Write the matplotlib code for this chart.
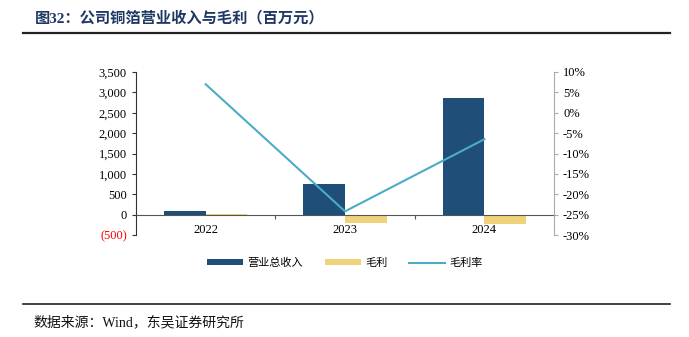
import numpy as np
import matplotlib
matplotlib.use('Agg')
from matplotlib import pyplot as plt
from matplotlib.ticker import FuncFormatter, MultipleLocator
from matplotlib.lines import Line2D

plt.rcParams['font.family'] = ['Liberation Serif', 'Noto Sans CJK SC', 'DejaVu Sans']

years = ['2022', '2023', '2024']
revenue = [80, 740, 2870]
gross_profit = [8, -210, -220]
margin = [7.0, -24.2, -6.5]

navy = '#1F4E79'
gold = '#F0D27A'
teal = '#4BACC6'

fig = plt.figure(figsize=(6.89, 3.37), dpi=100)

# title and rules
fig.text(35/689, 1-18/337, '图32：公司铜箔营业收入与毛利（百万元）', fontsize=11,
         fontweight='bold', color='#1F3864', va='center', ha='left')
fig.add_artist(Line2D([23/689, 670/689], [1-33/337, 1-33/337], color='#222222', lw=1.6))
fig.add_artist(Line2D([23/689, 670/689], [1-304/337, 1-304/337], color='#222222', lw=1.2))
fig.text(33/689, 1-322/337, '数据来源：Wind，东吴证券研究所', fontsize=10,
         va='center', ha='left', color='#111111')

ax = fig.add_axes([136/689, 1-235/337, 418/689, 163/337])
ax2 = ax.twinx()

x = np.arange(len(years))
w = 0.3
b1 = ax.bar(x - w/2, revenue, w, color=navy, label='营业总收入', zorder=2)
b2 = ax.bar(x + w/2, gross_profit, w, color=gold, label='毛利', zorder=2)
l1, = ax2.plot(x, margin, color=teal, lw=1.5, label='毛利率')
ax.set_axisbelow(False)

ax.set_xlim(-0.5, 2.5)
ax.set_ylim(-500, 3500)
ax.yaxis.set_major_locator(MultipleLocator(500))

def lfmt(v, pos):
    if v < 0:
        return '({:,.0f})'.format(-v)
    return '{:,.0f}'.format(v)
ax.yaxis.set_major_formatter(FuncFormatter(lfmt))

ax2.set_ylim(-30, 10)
ax2.yaxis.set_major_locator(MultipleLocator(5))
ax2.yaxis.set_major_formatter(FuncFormatter(lambda v, p: '{:.0f}%'.format(v)))

# x axis on zero line
ax.spines['bottom'].set_position(('data', 0))
ax.spines['bottom'].set_color('#555555')
ax.spines['top'].set_visible(False)
ax.spines['right'].set_visible(False)
ax.spines['left'].set_color('#333333')
ax2.spines['top'].set_visible(False)
ax2.spines['left'].set_visible(False)
ax2.spines['bottom'].set_visible(False)
ax2.spines['right'].set_color('#AAAAAA')

ax.set_xticks([0.5, 1.5])
ax.set_xticklabels([])
ax.set_xticks(x, minor=True)
ax.set_xticklabels(years, minor=True)
ax.tick_params(axis='x', which='major', length=3, direction='out', color='#555555')
ax.tick_params(axis='x', which='minor', length=0, pad=7, labelsize=9)
ax.tick_params(axis='y', length=3, labelsize=9, color='#333333')
ax2.tick_params(axis='y', length=3, labelsize=9, color='#AAAAAA')

fig.canvas.draw()
for t in ax.get_yticklabels():
    if t.get_text().startswith('('):
        t.set_color('red')

fig.legend([b1, b2, l1], ['营业总收入', '毛利', '毛利率'], loc='center',
           bbox_to_anchor=(345/689, 1-263/337), ncol=3, frameon=False,
           fontsize=8, handlelength=3.2, handleheight=0.5, columnspacing=2.0,
           handletextpad=0.4)

fig.savefig('out.png', dpi=100)
